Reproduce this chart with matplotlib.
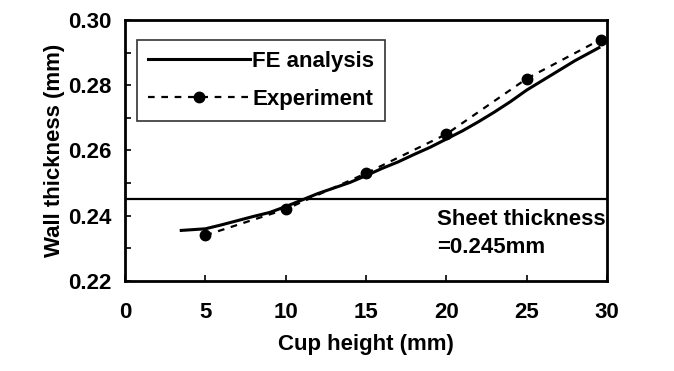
import numpy as np
import matplotlib.pyplot as plt
from matplotlib.ticker import MultipleLocator

plt.rcParams['font.family'] = ['Liberation Sans', 'DejaVu Sans']

# FE analysis curve
fe_x = [3.5, 5, 6, 7, 8, 9, 10, 11, 12, 13, 14, 15, 16, 17, 18, 19, 20,
        21, 22, 23, 24, 25, 26, 27, 28, 29.5]
fe_y = [0.2355, 0.2360, 0.2372, 0.2385, 0.2398, 0.2410, 0.2428, 0.2448,
        0.2468, 0.2485, 0.2502, 0.2523, 0.2545, 0.2565, 0.2588, 0.2610,
        0.2635, 0.2660, 0.2688, 0.2718, 0.2750, 0.2785, 0.2815, 0.2845,
        0.2875, 0.2915]

# experiment points
exp_x = [5, 10, 15, 20, 25, 29.6]
exp_y = [0.234, 0.242, 0.253, 0.265, 0.282, 0.294]

sheet_t = 0.245

fig = plt.figure(figsize=(6.74, 3.71), dpi=100)
ax = fig.add_axes([0.1855, 0.2426, 0.715, 0.7035])

ax.plot(fe_x, fe_y, '-', color='black', lw=2.2, label='FE analysis')
ax.plot(exp_x, exp_y, '--', color='black', lw=1.6, dashes=(3, 3),
        marker='o', ms=7.5, label='Experiment')
ax.axhline(sheet_t, color='black', lw=1.6)

ax.text(19.4, 0.2345, 'Sheet thickness\n=0.245mm', fontsize=16,
        va='center', ha='left', linespacing=1.45, fontweight='bold')

ax.set_xlim(0, 30)
ax.set_ylim(0.22, 0.30)
ax.xaxis.set_major_locator(MultipleLocator(5))
ax.yaxis.set_major_locator(MultipleLocator(0.02))
ax.yaxis.set_minor_locator(MultipleLocator(0.01))
ax.yaxis.set_major_formatter(plt.FormatStrFormatter('%.2f'))
ax.tick_params(axis='both', which='both', direction='in', length=4,
               width=1.2, labelsize=16, pad=15)
ax.tick_params(axis='y', pad=10)
for lab in ax.get_xticklabels() + ax.get_yticklabels():
    lab.set_fontweight('bold')
for s in ax.spines.values():
    s.set_linewidth(2)

ax.set_xlabel('Cup height (mm)', fontsize=16, labelpad=8, fontweight='bold')
ax.set_ylabel('Wall thickness (mm)', fontsize=16, labelpad=2,
              fontweight='bold')

leg = ax.legend(loc='upper left', bbox_to_anchor=(0.015, 0.94),
                prop={'size': 16, 'weight': 'bold'},
                frameon=True, fancybox=False, edgecolor='black',
                handlelength=4.6, handletextpad=0.1, borderpad=0.5,
                labelspacing=0.75, borderaxespad=0.2)
leg.get_frame().set_linewidth(1.2)

fig.savefig('out.png', dpi=100)
